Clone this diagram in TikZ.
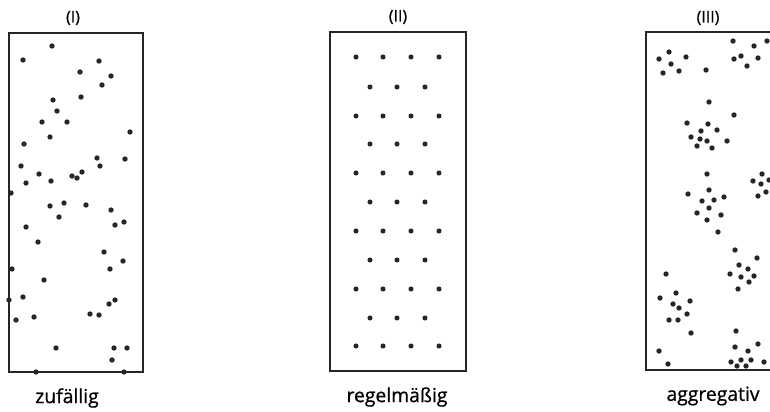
\documentclass[tikz,border=0pt]{standalone}
\usepackage{fontspec}
\setmainfont{Open Sans}
\newfontfamily\heavyish[FakeBold=0.8]{Open Sans}
\begin{document}
\begin{tikzpicture}[x=0.75pt,y=-0.75pt,
  frame/.style={line width=1.3pt, draw=black!85},
  dot/.style={fill=black!85},
  title/.style={font=\heavyish\fontsize{12}{14}\selectfont, inner sep=0pt},
  caption/.style={font=\heavyish\fontsize{14.5}{16}\selectfont, inner sep=0pt}]
\useasboundingbox (0,0) rectangle (770,411);
\clip (0,0) rectangle (770,411);
\fill[white] (0,0) rectangle (770,411);
% frames
\draw[frame] (9,33) rectangle (143,372);
\draw[frame] (330,32) rectangle (466,371);
\draw[frame] (646,32) rectangle (790,370);
% titles
\node[title] (t1) at (73,18) {(I)};
\node[title] (t2) at (398,17) {(II)};
\node[title] (t3) at (708,18) {(III)};
% captions
\node[caption] (c1) at (67,398) {zufällig};
\node[caption] (c2) at (397,397) {regelmäßig};
\node[caption] (c3) at (713,396) {aggregativ};
% (I) random
\foreach \x/\y in {52/46,23/60,99/61,80/72,111/76,102/85,81/97,53/100,57/111,42/122,67/122,50/137,
  130/132,24/144,97/158,125/159,100/166,21/166,39/174,26/183,51/181,72/176,77/178,82/172,11/193,
  50/206,64/203,86/205,111/210,59/217,115/225,124/222,26/227,38/242,104/252,123/261,110/269,12/269,
  44/280,23/297,115/300,109/304,9/300,16/320,34/317,90/314,99/315,56/348,114/348,127/348,112/360,
  36/372,124/372}
  \fill[dot] (\x,\y) circle (2pt);
% (II) regular
\foreach \y in {57,116,173,231,289,346}
  \foreach \x in {356,383,411,439}
    \fill[dot] (\x,\y) circle (1.9pt);
\foreach \y in {87,144,202,260,318}
  \foreach \x in {370,397,425}
    \fill[dot] (\x,\y) circle (1.9pt);
% (III) aggregated
\foreach \x/\y in {669/52,659/59,686/57,671/64,663/73,679/71,706/70,733/41,754/46,767/41,734/59,741/56,
  758/58,747/66,709/102,734/115,687/123,708/124,717/130,701/131,691/137,700/139,707/141,727/141,
  697/146,712/148,707/174,762/174,753/181,761/184,769/180,709/190,688/194,724/197,758/196,766/192,
  702/201,714/200,709/208,697/213,721/215,707/220,718/232,735/250,757/258,739/265,748/269,730/274,
  741/277,754/276,749/282,738/289,666/274,676/293,660/298,673/304,690/301,679/308,687/314,669/320,
  678/320,691/333,736/331,735/347,758/344,748/351,659/351,731/362,741/360,751/360,737/366,746/366,
  764/362,668/364}
  \fill[dot] (\x,\y) circle (2pt);
\end{tikzpicture}
\end{document}
